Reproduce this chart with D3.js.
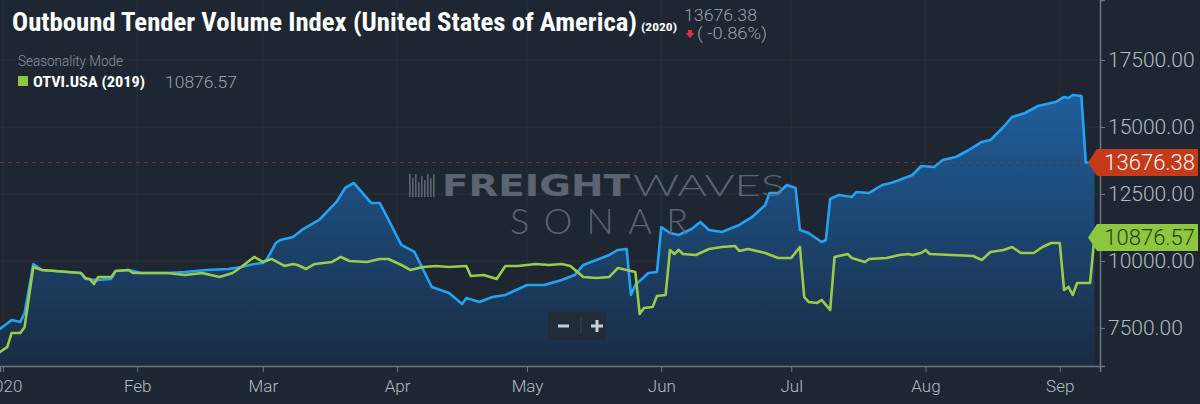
<!DOCTYPE html>
<html>
<head>
<meta charset="utf-8">
<script src="https://cdn.jsdelivr.net/npm/d3@7"></script>
<style>
  html, body { margin: 0; padding: 0; background: #1e2731; }
  svg { display: block; }
  text { font-family: Roboto, "Noto Sans", sans-serif; }
</style>
</head>
<body>
<div id="graphic"></div>
<script>
// 2020 series (blue) - Outbound Tender Volume Index, USA
const otvi2020Dates = [
  '2019-12-31','2020-01-03','2020-01-05','2020-01-06','2020-01-08','2020-01-10','2020-01-16','2020-01-19',
  '2020-01-20','2020-01-23','2020-01-26','2020-01-27','2020-01-30','2020-02-02','2020-02-08','2020-02-12',
  '2020-02-17','2020-02-22','2020-02-25','2020-02-28','2020-03-01','2020-03-02','2020-03-04','2020-03-05',
  '2020-03-08','2020-03-10','2020-03-14','2020-03-18','2020-03-20','2020-03-22','2020-03-26','2020-03-28',
  '2020-04-02','2020-04-05','2020-04-09','2020-04-13','2020-04-16','2020-04-17','2020-04-20','2020-04-23',
  '2020-04-26','2020-05-01','2020-05-05','2020-05-09','2020-05-12','2020-05-14','2020-05-17','2020-05-20',
  '2020-05-22','2020-05-24','2020-05-25','2020-05-26','2020-05-29','2020-05-31','2020-06-01','2020-06-03',
  '2020-06-05','2020-06-08','2020-06-10','2020-06-12','2020-06-15','2020-06-19','2020-06-22','2020-06-25',
  '2020-06-26','2020-06-28','2020-06-30','2020-07-02','2020-07-03','2020-07-05','2020-07-08','2020-07-09',
  '2020-07-10','2020-07-12','2020-07-15','2020-07-16','2020-07-19','2020-07-22','2020-07-24','2020-07-26',
  '2020-07-29','2020-07-31','2020-08-03','2020-08-05','2020-08-08','2020-08-11','2020-08-14','2020-08-16',
  '2020-08-19','2020-08-21','2020-08-24','2020-08-27','2020-08-31','2020-09-02','2020-09-03','2020-09-04',
  '2020-09-06','2020-09-07','2020-09-09'
];
const otvi2020Values = [
  7426, 7799, 7725, 8060, 9889, 9664, 9590, 9552,
  9328, 9291, 9328, 9627, 9664, 9552, 9552, 9590,
  9664, 9702, 9776, 9889, 9926, 10075, 10672, 10784,
  10896, 11157, 11530, 12202, 12724, 12911, 12165, 12165,
  10597, 10336, 9030, 8807, 8396, 8620, 8471, 8657,
  8732, 9105, 9105, 9291, 9478, 9851, 10038, 10224,
  10411, 10448, 8732, 9105, 9552, 9590, 11269, 11045,
  10971, 11194, 11456, 11157, 11083, 11344, 11642, 12090,
  12538, 12538, 12836, 12724, 11157, 11045, 10709, 10784,
  12314, 12463, 12388, 12575, 12538, 12836, 12911, 13023,
  13209, 13545, 13507, 13769, 13881, 14142, 14441, 14515,
  15000, 15373, 15523, 15784, 15933, 16120, 16082, 16194,
  16157, 13676.38, 13676.38
];

// 2019 series (green), seasonality mode: placed on the 2020 calendar
const otvi2019Dates = [
  '2019-12-31','2020-01-02','2020-01-03','2020-01-05','2020-01-06','2020-01-08','2020-01-10','2020-01-16',
  '2020-01-19','2020-01-20','2020-01-21','2020-01-22','2020-01-23','2020-01-26','2020-01-27','2020-01-30',
  '2020-01-31','2020-02-08','2020-02-12','2020-02-16','2020-02-20','2020-02-23','2020-02-25','2020-02-28',
  '2020-03-01','2020-03-03','2020-03-06','2020-03-08','2020-03-09','2020-03-11','2020-03-13','2020-03-17',
  '2020-03-19','2020-03-21','2020-03-25','2020-03-28','2020-03-30','2020-04-02','2020-04-04','2020-04-07',
  '2020-04-10','2020-04-13','2020-04-17','2020-04-18','2020-04-21','2020-04-24','2020-04-26','2020-04-29',
  '2020-05-03','2020-05-06','2020-05-09','2020-05-11','2020-05-14','2020-05-17','2020-05-20','2020-05-22',
  '2020-05-24','2020-05-26','2020-05-27','2020-05-28','2020-05-30','2020-05-31','2020-06-02','2020-06-03',
  '2020-06-04','2020-06-05','2020-06-06','2020-06-09','2020-06-12','2020-06-15','2020-06-18','2020-06-19',
  '2020-06-21','2020-06-25','2020-06-28','2020-07-01','2020-07-03','2020-07-04','2020-07-05','2020-07-07',
  '2020-07-08','2020-07-10','2020-07-11','2020-07-14','2020-07-15','2020-07-18','2020-07-19','2020-07-23',
  '2020-07-26','2020-07-28','2020-07-29','2020-07-31','2020-08-01','2020-08-02','2020-08-07','2020-08-12',
  '2020-08-14','2020-08-16','2020-08-19','2020-08-21','2020-08-23','2020-08-26','2020-08-28','2020-08-30',
  '2020-09-01','2020-09-02','2020-09-03','2020-09-04','2020-09-05','2020-09-08','2020-09-09'
];
const otvi2019Values = [
  6568, 6792, 7314, 7314, 7538, 9776, 9664, 9590,
  9552, 9366, 9328, 9142, 9403, 9403, 9627, 9664,
  9552, 9552, 9478, 9552, 9403, 9552, 9776, 10149,
  9963, 10075, 9814, 9889, 9851, 9702, 9889, 9963,
  10149, 10000, 9963, 10075, 10075, 9851, 9664, 9776,
  9814, 9776, 9814, 9440, 9478, 9328, 9814, 9814,
  9889, 9851, 9889, 9814, 9403, 9366, 9403, 9739,
  9664, 9590, 8023, 8247, 8284, 8695, 8732, 10411,
  10261, 10411, 10261, 10224, 10448, 10523, 10560, 10373,
  10448, 10299, 10112, 10112, 10523, 8657, 8471, 8434,
  8545, 8172, 10149, 10261, 10112, 9963, 10075, 10112,
  10224, 10261, 10224, 10299, 10411, 10261, 10224, 10187,
  10038, 10336, 10411, 10523, 10299, 10299, 10523, 10672,
  10672, 8918, 9030, 8732, 9180, 9180, 10876.57
];

const yTicks = [7500, 10000, 12500, 15000, 17500];
const last2020 = 13676.38, last2019 = 10876.57, change2020 = '( -0.86%)';

// Canvas + plot area
let width = 1200, height = 404;
let plotW = 1100, plotH = 366;

let parseDate = d3.timeParse('%Y-%m-%d');
let blue = otvi2020Dates.map((d, i) => ({ date: parseDate(d), value: otvi2020Values[i] }));
let green = otvi2019Dates.map((d, i) => ({ date: parseDate(d), value: otvi2019Values[i] }));

let x = d3.scaleTime()
    .domain([new Date(2019, 11, 31, 7, 30), new Date(2020, 8, 10, 7, 0)])
    .range([0, plotW]);

let y = d3.scaleLinear()
    .domain([6080, 19740])
    .range([plotH, 0]);

let svg = d3.select('#graphic')
    .append('svg')
    .attr('width', width)
    .attr('height', height);

svg.append('rect').attr('width', width).attr('height', height).attr('fill', '#1e2731');

let defs = svg.append('defs');
defs.append('clipPath').attr('id', 'plot-clip')
    .append('rect').attr('width', plotW).attr('height', plotH);

let grad = defs.append('linearGradient')
    .attr('id', 'area-grad')
    .attr('gradientUnits', 'userSpaceOnUse')
    .attr('x1', 0).attr('x2', 0).attr('y1', 90).attr('y2', plotH);
grad.append('stop').attr('offset', '0%').attr('stop-color', '#1f5f9e');
grad.append('stop').attr('offset', '100%').attr('stop-color', '#1a2c43');

// Grid lines
let grid = svg.append('g').attr('class', 'grid');
grid.selectAll('line.h').data(yTicks).join('line')
    .attr('x1', 0).attr('x2', plotW)
    .attr('y1', d => y(d)).attr('y2', d => y(d))
    .attr('stroke', '#ffffff').attr('stroke-opacity', 0.05);
grid.selectAll('line.v').data(x.ticks(d3.timeMonth.every(1))).join('line')
    .attr('x1', d => x(d)).attr('x2', d => x(d))
    .attr('y1', 0).attr('y2', plotH)
    .attr('stroke', '#ffffff').attr('stroke-opacity', 0.04);

let plot = svg.append('g').attr('clip-path', 'url(#plot-clip)');

// Area under the 2020 line
let area = d3.area()
    .x(d => x(d.date))
    .y0(plotH)
    .y1(d => y(d.value));

plot.append('path')
    .datum(blue)
    .attr('d', area)
    .attr('fill', 'url(#area-grad)');

// Watermark
let wm = svg.append('g').attr('fill', '#6b7480').attr('opacity', 0.8);
[[0, 23], [3, 19], [6, 23], [9, 15], [12, 21], [15, 17], [18, 23], [21, 19], [24, 23]].forEach(b => {
    wm.append('rect')
      .attr('x', 409 + b[0]).attr('y', 197 - b[1])
      .attr('width', 1.6).attr('height', b[1]);
});
wm.append('text')
    .attr('x', 442).attr('y', 196)
    .attr('textLength', 188).attr('lengthAdjust', 'spacingAndGlyphs')
    .style('font-family', '"DejaVu Sans", sans-serif')
    .style('font-weight', 'bold')
    .style('font-size', '30px')
    .text('FREIGHT');
wm.append('text')
    .attr('x', 633).attr('y', 196)
    .attr('textLength', 152).attr('lengthAdjust', 'spacingAndGlyphs')
    .style('font-family', 'Lato, sans-serif')
    .style('font-weight', 300)
    .style('font-size', '30px')
    .text('WAVES');
wm.append('text')
    .attr('x', 510).attr('y', 234)
    .attr('textLength', 178).attr('lengthAdjust', 'spacing')
    .style('font-family', 'Lato, sans-serif')
    .style('font-weight', 300)
    .style('font-size', '36px')
    .text('SONAR');

// Last value dashed line
svg.append('line')
    .attr('x1', 0).attr('x2', 1088)
    .attr('y1', y(last2020)).attr('y2', y(last2020))
    .attr('stroke', '#9a3b35').attr('stroke-opacity', 0.7)
    .attr('stroke-dasharray', '4,4');

let line = d3.line()
    .x(d => x(d.date))
    .y(d => y(d.value));

plot.append('path')
    .datum(blue)
    .attr('d', line)
    .attr('fill', 'none')
    .attr('stroke', '#23a3f2')
    .attr('stroke-width', 2.6)
    .attr('stroke-linejoin', 'round');

plot.append('path')
    .datum(green)
    .attr('d', line)
    .attr('fill', 'none')
    .attr('stroke', '#9ccb4c')
    .attr('stroke-width', 2.6)
    .attr('stroke-linejoin', 'round');

// Axes
let xAxis = d3.axisBottom(x)
    .ticks(d3.timeMonth.every(1))
    .tickFormat(d => d.getMonth() === 0 ? d3.timeFormat('%Y')(d) : d3.timeFormat('%b')(d))
    .tickSize(6)
    .tickPadding(8);

let gx = svg.append('g')
    .attr('transform', `translate(0, ${plotH})`)
    .call(xAxis);
gx.select('.domain').attr('stroke', '#6f7882').attr('stroke-width', 1.5);
gx.selectAll('.tick line').attr('stroke', '#6f7882');
gx.selectAll('.tick text')
    .attr('fill', '#b3bac2')
    .style('font-size', '17px')
    .style('font-weight', 300)
    .style('font-family', 'Roboto, sans-serif');

let yAxis = d3.axisRight(y)
    .tickValues(yTicks)
    .tickFormat(d3.format('.2f'))
    .tickSize(5)
    .tickPadding(3);

let gy = svg.append('g')
    .attr('transform', `translate(${plotW}, 0)`)
    .call(yAxis);
gy.select('.domain').attr('stroke', '#6f7882').attr('stroke-width', 1.5);
gy.selectAll('.tick line').attr('stroke', '#6f7882');
gy.selectAll('.tick text')
    .attr('fill', '#b3bac2')
    .style('font-size', '21px')
    .style('font-weight', 300)
    .style('font-family', 'Roboto, sans-serif');

// Current-value tags on the right axis
function drawTag(value, fill, textFill)
{
    let cy = y(value), tip = 1088, body = 1097, right = 1198, half = 13.5;
    svg.append('path')
        .attr('d', `M${tip},${cy} L${body},${cy - half} L${right},${cy - half} L${right},${cy + half} L${body},${cy + half} Z`)
        .attr('fill', fill);
    svg.append('text')
        .attr('x', 1195).attr('y', cy + 8)
        .attr('text-anchor', 'end')
        .attr('fill', textFill)
        .style('font-size', '22px')
        .style('font-weight', 300)
        .text(d3.format('.2f')(value));
}
drawTag(last2020, '#c43b1c', '#fff4ef');
drawTag(last2019, '#8dc63f', '#27420f');

// Zoom buttons
let zb = svg.append('g');
zb.append('rect')
    .attr('x', 548).attr('y', 312).attr('width', 58).attr('height', 28).attr('rx', 3)
    .attr('fill', '#222c38');
zb.append('rect').attr('x', 558).attr('y', 324.5).attr('width', 11).attr('height', 3).attr('fill', '#c9ced4');
zb.append('rect').attr('x', 591).attr('y', 324.5).attr('width', 12).attr('height', 3).attr('fill', '#c9ced4');
zb.append('rect').attr('x', 595.5).attr('y', 320).attr('width', 3).attr('height', 12).attr('fill', '#c9ced4');
zb.append('line').attr('x1', 581).attr('x2', 581).attr('y1', 318).attr('y2', 334)
    .attr('stroke', '#3a4551');

// Header
let condensed = '"Roboto Condensed", "Liberation Sans Narrow", "DejaVu Sans Condensed", Roboto, sans-serif';

svg.append('text')
    .attr('x', 12).attr('y', 31)
    .attr('fill', '#ffffff')
    .attr('textLength', 625).attr('lengthAdjust', 'spacingAndGlyphs')
    .style('font-family', condensed)
    .style('font-weight', 'bold')
    .style('font-size', '25px')
    .text('Outbound Tender Volume Index (United States of America)');

svg.append('text')
    .attr('x', 641).attr('y', 31)
    .attr('fill', '#ffffff')
    .attr('textLength', 36).attr('lengthAdjust', 'spacingAndGlyphs')
    .style('font-family', condensed)
    .style('font-weight', 'bold')
    .style('font-size', '10px')
    .text('(2020)');

svg.append('text')
    .attr('x', 684).attr('y', 21)
    .attr('fill', '#9aa1a9')
    .attr('textLength', 73).attr('lengthAdjust', 'spacingAndGlyphs')
    .style('font-size', '16px')
    .style('font-weight', 300)
    .text(d3.format('.2f')(last2020));

svg.append('path')
    .attr('d', 'M688,30 L692,30 L692,33 L694.5,33 L690,38 L685.5,33 L688,33 Z')
    .attr('fill', '#e0323a');

svg.append('text')
    .attr('x', 697).attr('y', 39)
    .attr('fill', '#9aa1a9')
    .attr('textLength', 70).attr('lengthAdjust', 'spacingAndGlyphs')
    .style('font-size', '16px')
    .style('font-weight', 300)
    .text(change2020);

svg.append('text')
    .attr('x', 18).attr('y', 66)
    .attr('fill', '#8c939b')
    .attr('textLength', 105).attr('lengthAdjust', 'spacingAndGlyphs')
    .style('font-size', '14px')
    .style('font-weight', 300)
    .text('Seasonality Mode');

svg.append('rect')
    .attr('x', 18).attr('y', 76).attr('width', 10).attr('height', 10)
    .attr('fill', '#8dc63f');

svg.append('text')
    .attr('x', 33).attr('y', 87)
    .attr('fill', '#ffffff')
    .attr('textLength', 112).attr('lengthAdjust', 'spacingAndGlyphs')
    .style('font-family', condensed)
    .style('font-weight', 'bold')
    .style('font-size', '15px')
    .text('OTVI.USA (2019)');

svg.append('text')
    .attr('x', 165).attr('y', 88)
    .attr('fill', '#9aa1a9')
    .attr('textLength', 72).attr('lengthAdjust', 'spacingAndGlyphs')
    .style('font-size', '17px')
    .style('font-weight', 300)
    .text(d3.format('.2f')(last2019));
</script>
</body>
</html>
